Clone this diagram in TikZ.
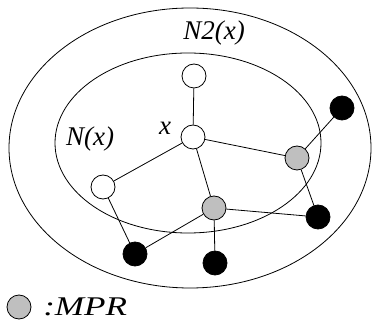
\documentclass[tikz,border=0pt]{standalone}
\usepackage{fontspec}
\setmainfont{Liberation Serif}
\usepackage{tikz}

\begin{document}
\begin{tikzpicture}[
  x=1pt, y=-1pt,
  hood/.style={draw, line width=0.8pt},
  vtx/.style={circle, draw, line width=0.8pt, minimum size=24pt, inner sep=0pt},
  plain/.style={vtx, fill=white},
  mpr/.style={vtx, fill=gray!50},
  far/.style={vtx, fill=black},
  link/.style={line width=0.8pt},
  lbl/.style={font=\fontsize{27}{30}\selectfont\itshape, inner sep=0pt}
]
\useasboundingbox (0,0) rectangle (372,320);
% neighbourhoods
\draw[hood] (190,148) ellipse [x radius=181, y radius=140];
\draw[hood] (188,143) ellipse [x radius=133, y radius=90];
\node[lbl] (n2) at (214,33) {N2(x)};
\node[lbl] (n1) at (90,139) {N(x)};
% vertices
\node[plain] (x) at (193,137) {};
\node[plain] (top) at (194,76) {};
\node[plain] (left) at (103,187) {};
\node[mpr] (mr) at (297,158) {};
\node[mpr] (mm) at (214,208) {};
\node[far] (btr) at (342,108) {};
\node[far] (br) at (318,217) {};
\node[far] (bbl) at (135,254) {};
\node[far] (bbm) at (215,263) {};
\node[lbl] (xl) at (165,128) {x};
% edges
\draw[link] (x) -- (top);
\draw[link] (x) -- (left);
\draw[link] (x) -- (mr);
\draw[link] (x) -- (mm);
\draw[link] (mr) -- (btr);
\draw[link] (mr) -- (br);
\draw[link] (left) -- (bbl);
\draw[link] (mm) -- (bbl);
\draw[link] (mm) -- (br);
\draw[link] (mm) -- (bbm);
% legend
\node[mpr] (key) at (19,307) {};
\node[lbl, anchor=west, xscale=1.3] (keytext) at (43,307) {:MPR};
\end{tikzpicture}
\end{document}
